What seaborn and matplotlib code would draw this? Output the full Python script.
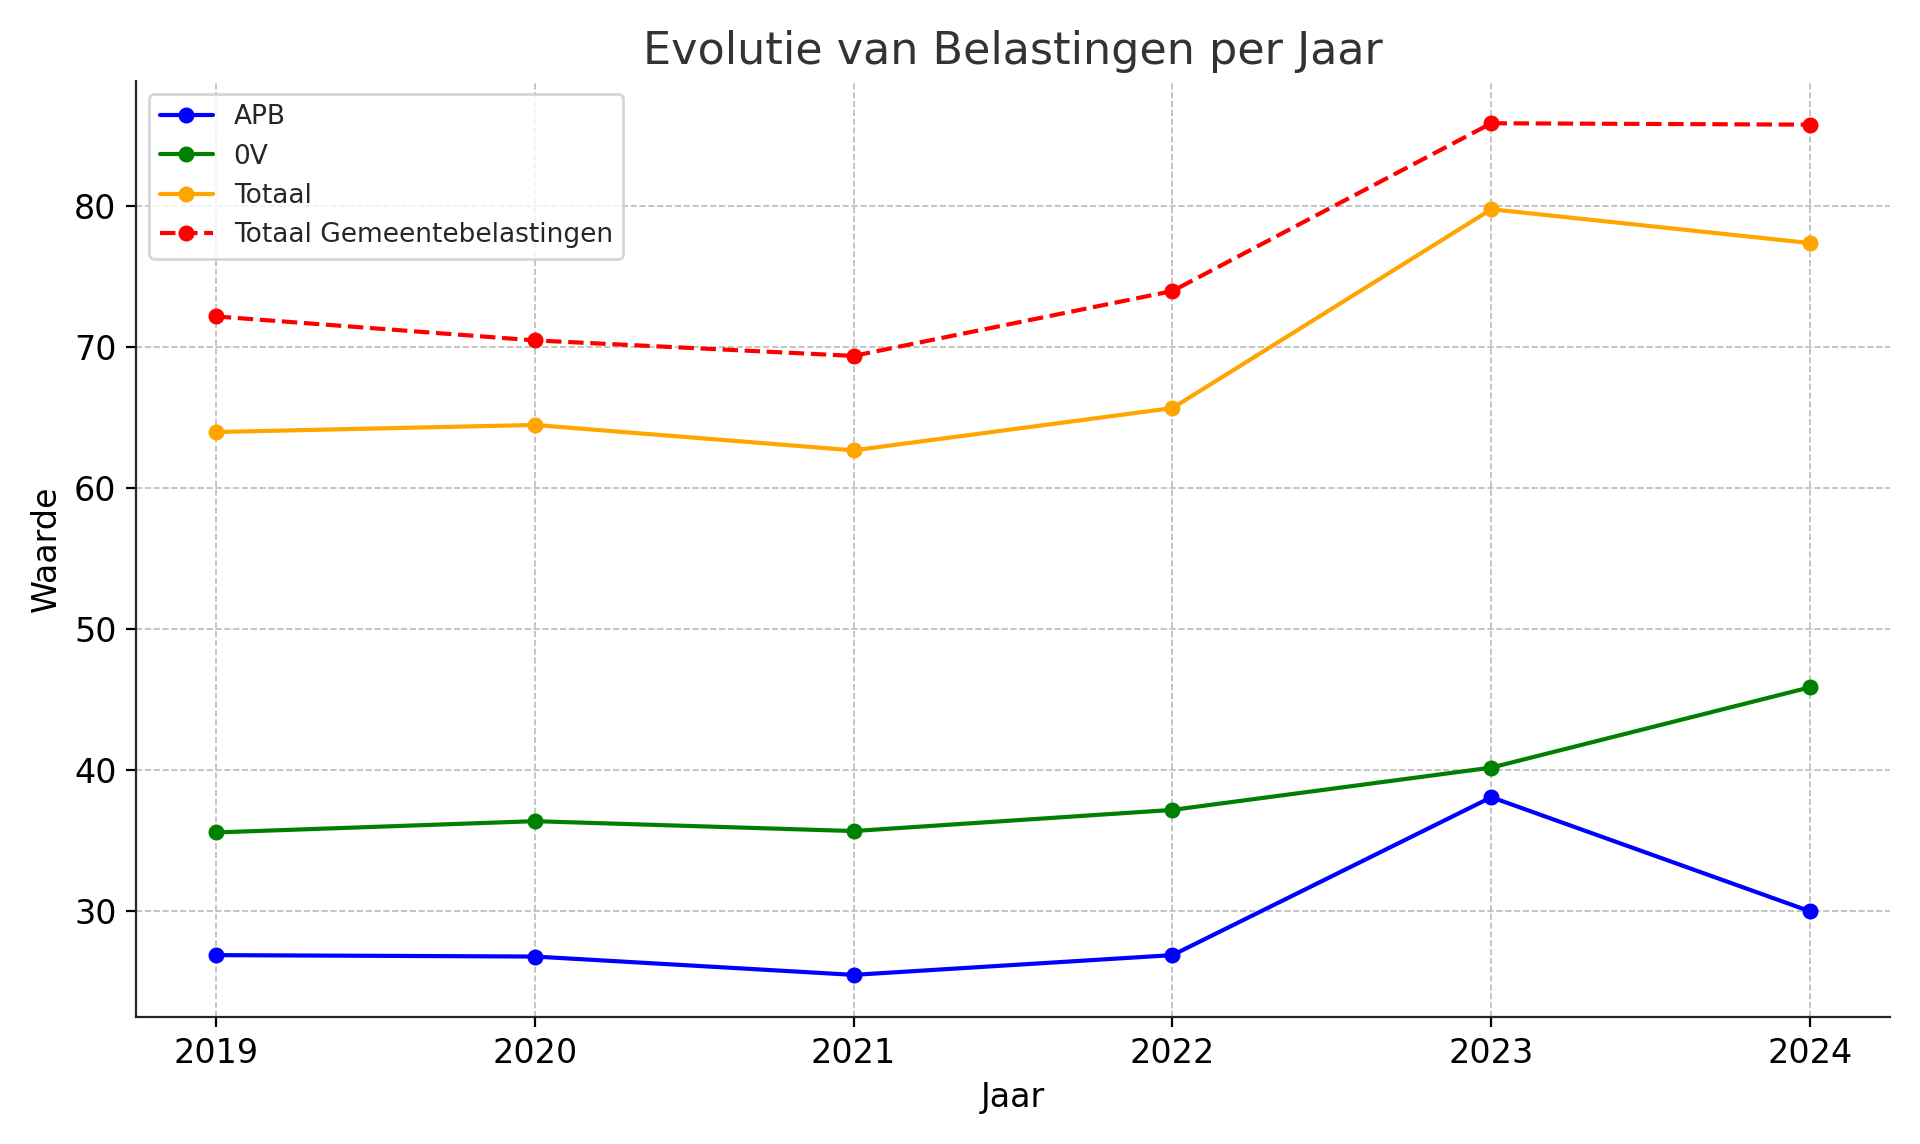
import pandas as pd
import matplotlib.pyplot as plt
import seaborn as sns

jaren = [2019, 2020, 2021, 2022, 2023, 2024]
apb = [26.9, 26.8, 25.5, 26.9, 38.1, 30.0]
ov = [35.6, 36.4, 35.7, 37.2, 40.2, 45.9]
totaal = [64.0, 64.5, 62.7, 65.7, 79.8, 77.4]
gemeente = [72.2, 70.5, 69.4, 74.0, 85.9, 85.8]

df = pd.DataFrame({'Jaar': jaren, 'APB': apb, '0V': ov, 'Totaal': totaal,
                   'Totaal Gemeentebelastingen': gemeente})

sns.set_style('ticks')
fig, ax = plt.subplots(figsize=(9.6, 5.72), dpi=200)

sns.lineplot(data=df, x='Jaar', y='APB', marker='o', color='blue', label='APB',
             markeredgecolor='blue', markersize=5, ax=ax)
sns.lineplot(data=df, x='Jaar', y='0V', marker='o', color='green', label='0V',
             markeredgecolor='green', markersize=5, ax=ax)
sns.lineplot(data=df, x='Jaar', y='Totaal', marker='o', color='orange', label='Totaal',
             markeredgecolor='orange', markersize=5, ax=ax)
sns.lineplot(data=df, x='Jaar', y='Totaal Gemeentebelastingen', marker='o', color='red',
             linestyle='--', label='Totaal Gemeentebelastingen',
             markeredgecolor='red', markersize=5, ax=ax)

ax.set_title('Evolutie van Belastingen per Jaar', fontsize=16, color='#333333')
ax.set_xlabel('Jaar', fontsize=12, color='black')
ax.set_ylabel('Waarde', fontsize=12, color='black')
ax.set_xticks(jaren)
ax.tick_params(labelsize=12, colors='black')
ax.grid(True, linestyle='--', linewidth=0.6, color='#bbbbbb')
sns.despine(ax=ax)
ax.legend(loc='upper left', fontsize=9.5)

plt.tight_layout()
plt.savefig('out.png', dpi=200)
